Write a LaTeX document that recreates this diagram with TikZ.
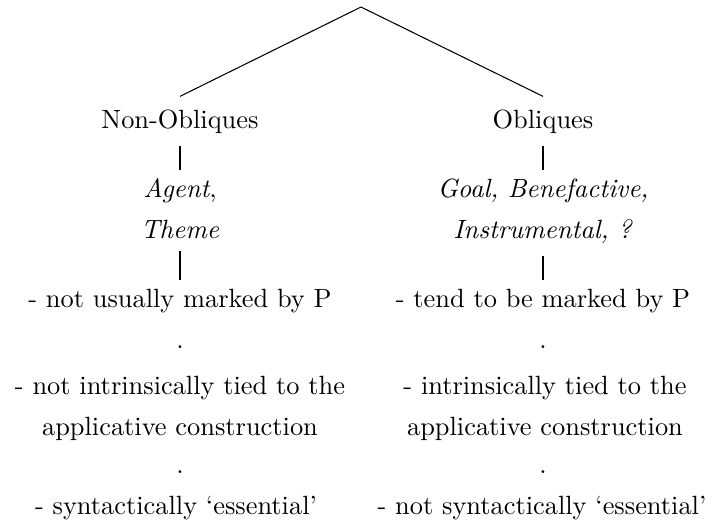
\documentclass[tikz,border=0pt]{standalone}
\usepackage{tikz}
\usetikzlibrary{positioning}

\begin{document}
\begin{tikzpicture}[x=0.379pt, y=-0.379pt,
  lbl/.style={inner sep=4.75pt, align=center, anchor=base,
              font=\fontsize{10}{15.2}\selectfont},
  pnt/.style={inner sep=0pt, anchor=base, font=\fontsize{10}{12}\selectfont},
  bar/.style={shorten >=-1.5pt}]
  \useasboundingbox (0,0) rectangle (708,523);

  \coordinate (top) at (361,7);
  \node[lbl] (nob) at (180,128) {Non-Obliques};
  \node[lbl] (obl) at (543,128) {Obliques};
  \draw (top) -- (nob.north);
  \draw (top) -- (obl.north);

  % two-line nodes sit on the baseline of their last line
  \node[lbl] (agt) at (180,238) {\textit{Agent},\\\textit{Theme}};
  \node[lbl] (gol) at (543,238) {\textit{Goal, Benefactive,}\\\textit{Instrumental, ?}};

  \node[lbl] (nmk) at (180,307) {- not usually marked by P};
  \node[lbl] (tmk) at (543,307) {- tend to be marked by P};

  \draw[bar] (nob.south) -- (agt.north);
  \draw[bar] (obl.south) -- (gol.north);
  \draw[bar] (agt.south) -- (nmk.north);
  \draw[bar] (gol.south) -- (tmk.north);

  \node[pnt] (dl1) at (180,348) {.};
  \node[pnt] (dr1) at (543,348) {.};
  \node[lbl] (ntd) at (180,435) {- not intrinsically tied to the\\applicative construction};
  \node[lbl] (itd) at (545,435) {- intrinsically tied to the\\applicative construction};
  \node[pnt] (dl2) at (180,473) {.};
  \node[pnt] (dr2) at (543,473) {.};
  \node[lbl] (sess) at (176,514) {- syntactically `essential'};
  \node[lbl] (nsess) at (542,514) {- not syntactically `essential'};
\end{tikzpicture}
\end{document}
